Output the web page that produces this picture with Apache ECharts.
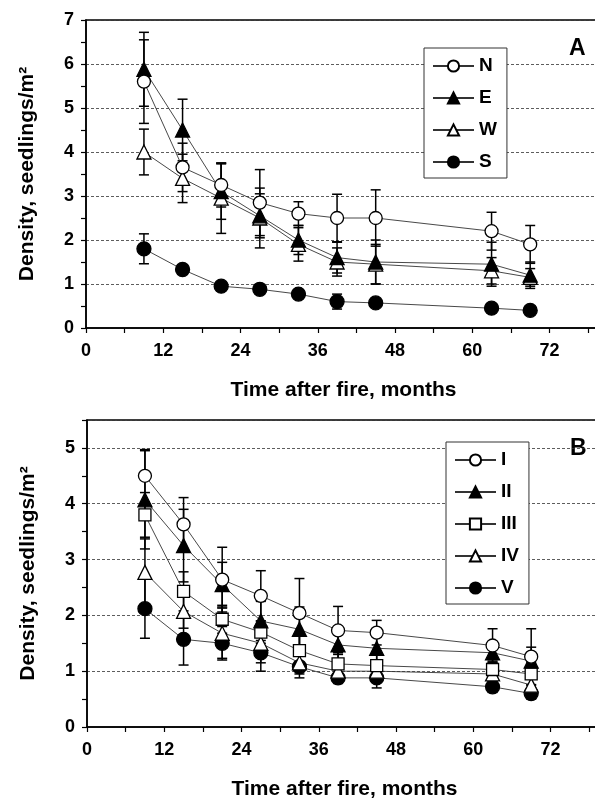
<!DOCTYPE html>
<html lang="en">
<head>
    <meta charset="UTF-8">
    <title>Seedling density after fire</title>
    <script type="text/javascript" src="https://cdn.jsdelivr.net/npm/echarts@6/dist/echarts.min.js"></script>
    <style>
        html, body { margin: 0; padding: 0; background: #fff; overflow: hidden; }
    </style>
</head>
<body>
    <div id="charts" style="width:595px;height:799px;"></div>
</body>
<script type="text/javascript">
    // months after fire (both panels)
    var months = [9, 15, 21, 27, 33, 39, 45, 63, 69];
    var xTicks = [0, 12, 24, 36, 48, 60, 72];

    // panel A: aspect
    var nVals = [5.6, 3.65, 3.25, 2.85, 2.6, 2.5, 2.5, 2.2, 1.9];
    var nErr  = [0.95, 0.55, 0.5, 0.75, 0.27, 0.54, 0.64, 0.43, 0.43];
    var eVals = [5.88, 4.5, 3.1, 2.55, 2.0, 1.6, 1.5, 1.45, 1.2];
    var eErr  = [0.84, 0.7, 0.63, 0.5, 0.33, 0.35, 0.5, 0.5, 0.3];
    var wVals = [4.0, 3.4, 2.95, 2.5, 1.9, 1.5, 1.45, 1.3, 1.15];
    var wErr  = [0.52, 0.55, 0.8, 0.68, 0.38, 0.32, 0.45, 0.3, 0.2];
    var sVals = [1.8, 1.33, 0.95, 0.88, 0.77, 0.6, 0.57, 0.45, 0.4];
    var sErr  = [0.34, 0, 0.08, 0, 0, 0.17, 0, 0, 0];

    // panel B: classes I..V
    var iVals   = [4.5, 3.63, 2.64, 2.35, 2.04, 1.73, 1.69, 1.46, 1.26];
    var iErr    = [0.47, 0.48, 0.58, 0.45, 0.62, 0.43, 0.22, 0.3, 0.5];
    var iiVals  = [4.07, 3.25, 2.55, 1.9, 1.75, 1.47, 1.41, 1.33, 1.18];
    var iiErr   = [0.88, 0.65, 0.4, 0.35, 0.4, 0.3, 0.3, 0.2, 0.25];
    var iiiVals = [3.8, 2.43, 1.93, 1.7, 1.37, 1.13, 1.1, 1.03, 0.95];
    var iiiErr  = [0.4, 0.35, 0.25, 0.2, 0.3, 0.2, 0.2, 0.15, 0.2];
    var ivVals  = [2.77, 2.07, 1.68, 1.5, 1.15, 1.0, 1.0, 0.95, 0.75];
    var ivErr   = [0.6, 0.3, 0.45, 0.35, 0.2, 0.15, 0.2, 0.2, 0.15];
    var vVals   = [2.12, 1.57, 1.5, 1.33, 1.08, 0.88, 0.88, 0.72, 0.6];
    var vErr    = [0.53, 0.46, 0.3, 0.33, 0.2, 0.1, 0.18, 0.1, 0.1];

    var FONT = 'Liberation Sans';

    function pts(ys) {
        return months.map(function (m, i) { return [m, ys[i]]; });
    }

    // line + markers
    function lineSeries(name, idx, ys, symbol, filled, size) {
        return {
            name: name, type: 'line', xAxisIndex: idx, yAxisIndex: idx,
            data: pts(ys), z: 3,
            symbol: symbol, symbolSize: size,
            lineStyle: { color: '#333', width: 0.9 },
            itemStyle: { color: filled ? '#000' : '#fff', borderColor: '#000', borderWidth: 1.3, opacity: 1 }
        };
    }

    // error bars with caps
    function errSeries(idx, ys, errs) {
        var d = [];
        months.forEach(function (m, i) {
            if (errs[i] > 0) d.push([m, ys[i] - errs[i], ys[i] + errs[i]]);
        });
        return {
            type: 'custom', xAxisIndex: idx, yAxisIndex: idx, silent: true, z: 2,
            encode: { x: 0, y: [1, 2] },
            data: d,
            renderItem: function (params, api) {
                var x = api.value(0);
                var lo = api.coord([x, api.value(1)]);
                var hi = api.coord([x, api.value(2)]);
                var w = 5;
                var st = { stroke: '#000', lineWidth: 1.5 };
                return {
                    type: 'group',
                    children: [
                        { type: 'line', shape: { x1: lo[0], y1: lo[1], x2: hi[0], y2: hi[1] }, style: st },
                        { type: 'line', shape: { x1: hi[0] - w, y1: hi[1], x2: hi[0] + w, y2: hi[1] }, style: st },
                        { type: 'line', shape: { x1: lo[0] - w, y1: lo[1], x2: lo[0] + w, y2: lo[1] }, style: st }
                    ]
                };
            }
        };
    }

    function xAxisDef(idx) {
        return {
            type: 'value', gridIndex: idx, min: 0, max: 80, interval: 12,
            name: 'Time after fire, months', nameLocation: 'middle', nameGap: 52,
            nameTextStyle: { fontFamily: FONT, fontWeight: 'bold', fontSize: 21, color: '#000' },
            axisLine: { lineStyle: { color: '#000', width: 1.5 } },
            axisTick: { inside: false, length: 5, lineStyle: { color: '#000', width: 1.2 } },
            minorTick: { show: true, splitNumber: 2, length: 5, lineStyle: { color: '#000', width: 1.2 } },
            axisLabel: {
                margin: 14, fontFamily: FONT, fontWeight: 'bold', fontSize: 18, color: '#000',
                formatter: function (v) { return xTicks.indexOf(v) >= 0 ? String(v) : ''; }
            },
            splitLine: { show: false }
        };
    }

    function yAxisDef(idx, max) {
        return {
            type: 'value', gridIndex: idx, min: 0, max: max, interval: 1,
            name: 'Density, seedlings/m²', nameLocation: 'middle', nameGap: 48,
            nameTextStyle: { fontFamily: FONT, fontWeight: 'bold', fontSize: 21, color: '#000' },
            axisLine: { show: true, lineStyle: { color: '#000', width: 1.5 } },
            axisTick: { show: true, length: 5, lineStyle: { color: '#000', width: 1.2 } },
            minorTick: { show: true, splitNumber: 2, length: 5, lineStyle: { color: '#000', width: 1.2 } },
            axisLabel: {
                margin: 12, fontFamily: FONT, fontWeight: 'bold', fontSize: 18, color: '#000',
                formatter: function (v) { return v === max && max % 1 !== 0 ? '' : String(v); }
            },
            splitLine: { show: true, lineStyle: { color: '#333', width: 0.8, type: [3, 2] } }
        };
    }

    function legendDef(names, left, top) {
        return {
            data: names, orient: 'vertical', left: left, top: top,
            backgroundColor: '#fff', borderColor: '#333', borderWidth: 1,
            padding: [8, 10, 6, 8], itemGap: 12, itemWidth: 41, itemHeight: 14,
            selectedMode: false,
            textStyle: { fontFamily: FONT, fontWeight: 'bold', fontSize: 19, color: '#000', lineHeight: 20, padding: [0, 0, 0, 0] }
        };
    }

    var myChart = echarts.init(document.getElementById('charts'), null, { renderer: 'canvas' });

    var option = {
        animation: false,
        backgroundColor: '#fff',
        grid: [
            { left: 86, top: 20, width: 515, height: 308, outerBoundsMode: 'none', show: true, borderColor: '#000', borderWidth: 1.5, backgroundColor: 'transparent' },
            { left: 87, top: 420, width: 515, height: 307, outerBoundsMode: 'none', show: true, borderColor: '#000', borderWidth: 1.5, backgroundColor: 'transparent' }
        ],
        xAxis: [xAxisDef(0), xAxisDef(1)],
        yAxis: [yAxisDef(0, 7), yAxisDef(1, 5.5)],
        legend: [
            legendDef(['N', 'E', 'W', 'S'], 424, 48),
            legendDef(['I', 'II', 'III', 'IV', 'V'], 446, 442)
        ],
        graphic: [
            { type: 'text', left: 569, top: 37, style: { text: 'A', font: 'bold 23px "Liberation Sans"', fill: '#000' } },
            { type: 'text', left: 570, top: 437, style: { text: 'B', font: 'bold 23px "Liberation Sans"', fill: '#000' } }
        ],
        series: [
            errSeries(0, nVals, nErr), errSeries(0, eVals, eErr), errSeries(0, wVals, wErr), errSeries(0, sVals, sErr),
            lineSeries('S', 0, sVals, 'circle', true, 14),
            lineSeries('W', 0, wVals, 'triangle', false, 14),
            lineSeries('E', 0, eVals, 'triangle', true, 14),
            lineSeries('N', 0, nVals, 'circle', false, 13),

            errSeries(1, iVals, iErr), errSeries(1, iiVals, iiErr), errSeries(1, iiiVals, iiiErr),
            errSeries(1, ivVals, ivErr), errSeries(1, vVals, vErr),
            lineSeries('V', 1, vVals, 'circle', true, 14),
            lineSeries('IV', 1, ivVals, 'triangle', false, 14),
            lineSeries('III', 1, iiiVals, 'rect', false, 12),
            lineSeries('II', 1, iiVals, 'triangle', true, 14),
            lineSeries('I', 1, iVals, 'circle', false, 13)
        ]
    };

    myChart.setOption(option);
</script>
</html>
